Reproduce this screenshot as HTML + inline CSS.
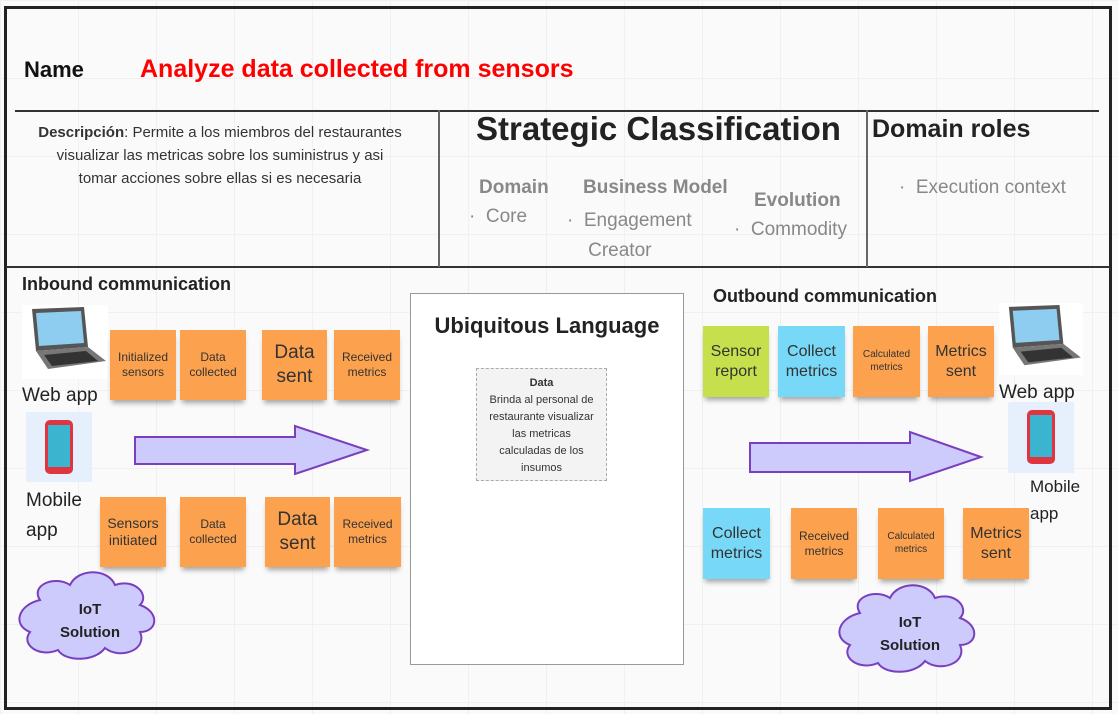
<!DOCTYPE html>
<html><head><meta charset="utf-8"><style>
*{margin:0;padding:0;box-sizing:border-box}
body{width:1118px;height:714px;background:#fafafa;font-family:"Liberation Sans",sans-serif;position:relative;overflow:hidden;
background-image:linear-gradient(#f0f0f0 1px,transparent 1px),linear-gradient(90deg,#f0f0f0 1px,transparent 1px);background-size:78px 78px}
.a{position:absolute}
.frame{left:4px;top:6px;width:1108px;height:704px;border:3px solid #222}
.hl{height:2px;background:#333}
.vl{width:1.5px;background:#666}
.s{position:absolute;display:flex;align-items:center;justify-content:center;text-align:center;color:#333;background:#fca14e;box-shadow:0 5px 5px -2px rgba(0,0,0,.35);line-height:1.25}
.f12{font-size:12px}.f11{font-size:11px}.f10{font-size:10px}.f19{font-size:19px}.f16{font-size:16px}
.g{color:#888}
.b{font-weight:bold}
</style></head><body>
<div class="a frame"></div>
<div class="a b" style="left:24px;top:57px;font-size:22px;color:#111">Name</div>
<div class="a b" style="left:140px;top:55px;font-size:25px;color:#f00">Analyze data collected from sensors</div>
<div class="a hl" style="left:15px;top:110px;width:1084px"></div>
<div class="a hl" style="left:6px;top:266px;width:1104px"></div>
<div class="a vl" style="left:438px;top:110px;height:157px"></div>
<div class="a vl" style="left:866px;top:110px;height:157px"></div>
<div class="a" style="left:10px;top:121px;width:420px;text-align:center;font-size:15px;line-height:23px;color:#333;white-space:nowrap"><b>Descripción</b>: Permite a los miembros del restaurantes<br>visualizar las metricas sobre los suministrus y asi<br>tomar acciones sobre ellas si es necesaria</div>
<div class="a b" style="left:476px;top:110px;font-size:33px;color:#222">Strategic Classification</div>
<div class="a b" style="left:872px;top:115px;font-size:25px;color:#222">Domain roles</div>
<div class="a b g" style="left:479px;top:177px;font-size:19px">Domain</div>
<div class="a g" style="left:469px;top:206px;font-size:19px">·&nbsp; Core</div>
<div class="a b g" style="left:583px;top:177px;font-size:19px">Business Model</div>
<div class="a g" style="left:567px;top:206px;font-size:19px;line-height:30px">·&nbsp; Engagement<br>&nbsp;&nbsp;&nbsp;&nbsp;Creator</div>
<div class="a b g" style="left:754px;top:190px;font-size:19px">Evolution</div>
<div class="a g" style="left:734px;top:219px;font-size:19px">·&nbsp; Commodity</div>
<div class="a g" style="left:899px;top:177px;font-size:19px">·&nbsp; Execution context</div>

<div class="a b" style="left:22px;top:274px;font-size:18px;color:#222">Inbound communication</div>
<div class="a b" style="left:713px;top:286px;font-size:18px;color:#222">Outbound communication</div>

<svg class="a" style="left:22px;top:305px" width="86" height="74" viewBox="0 0 86 74"><rect width="86" height="74" fill="#fff"/><polygon points="10,4 62,2 66,42 14,46" fill="#555"/><polygon points="14,8 59,6 62,38 17,41" fill="#8fcdf0"/><polygon points="14,46 66,42 84,56 26,64" fill="#777"/><polygon points="22,50 64,46 76,56 30,61" fill="#333"/></svg>
<div class="a" style="left:22px;top:385px;font-size:19px;color:#222">Web app</div>
<div class="a" style="left:26px;top:412px;width:66px;height:70px;background:#e6f0fc"></div>
<div class="a" style="left:45px;top:420px;width:28px;height:54px;border-radius:5px;background:#e03440"><div style="margin:5px 3px;height:42px;background:#3bb4d0"></div></div>
<div class="a" style="left:26px;top:486px;font-size:19px;line-height:30px;color:#222">Mobile<br>app</div>

<div class="s f12" style="left:110px;top:330px;width:66px;height:70px">Initialized sensors</div>
<div class="s f12" style="left:180px;top:330px;width:66px;height:70px">Data collected</div>
<div class="s f19" style="left:262px;top:330px;width:65px;height:70px">Data sent</div>
<div class="s f12" style="left:334px;top:330px;width:66px;height:70px">Received metrics</div>
<div class="s" style="left:100px;top:497px;width:66px;height:70px;font-size:14px">Sensors initiated</div>
<div class="s f12" style="left:180px;top:497px;width:66px;height:70px">Data collected</div>
<div class="s f19" style="left:265px;top:497px;width:65px;height:70px">Data sent</div>
<div class="s f12" style="left:334px;top:497px;width:67px;height:70px">Received metrics</div>

<svg class="a" style="left:0;top:0" width="1118" height="714">
<polygon points="135,437 295,437 295,426 367,450 295,474 295,464 135,464" fill="#cdcafc" stroke="#7a3fbf" stroke-width="2"/>
<polygon points="750,443 910,443 910,432 981,457 910,481 910,472 750,472" fill="#cdcafc" stroke="#7a3fbf" stroke-width="2"/>
<g fill="#cdcafc" stroke="#7a3fbf" stroke-width="2">
<path d="M40,600 C30,585 55,575 70,585 C78,568 108,568 115,585 C135,578 150,595 140,605 C160,612 158,632 140,632 C148,650 120,660 105,648 C95,662 65,662 58,650 C40,658 20,645 30,632 C12,625 18,605 40,600Z"/>
<path d="M860,613 C850,598 875,588 890,598 C898,581 928,581 935,598 C955,591 970,608 960,618 C980,625 978,645 960,645 C968,663 940,673 925,661 C915,675 885,675 878,663 C860,671 840,658 850,645 C832,638 838,618 860,613Z"/>
</g>
</svg>
<div class="a b" style="left:40px;top:598px;width:100px;text-align:center;font-size:15px;line-height:23px;color:#222">IoT<br>Solution</div>
<div class="a b" style="left:860px;top:611px;width:100px;text-align:center;font-size:15px;line-height:23px;color:#222">IoT<br>Solution</div>

<div class="a" style="left:410px;top:293px;width:274px;height:372px;background:#fff;border:1.5px solid #999"></div>
<div class="a b" style="left:410px;top:313px;width:274px;text-align:center;font-size:22px;color:#222">Ubiquitous Language</div>
<div class="a" style="left:476px;top:368px;width:131px;height:113px;background:#f3f3f3;border:1px dashed #aaa;text-align:center;font-size:11px;line-height:17px;color:#333;padding-top:6px;white-space:nowrap"><b>Data</b><br>Brinda al personal de<br>restaurante visualizar<br>las metricas<br>calculadas de los<br>insumos</div>

<div class="s f16" style="left:703px;top:326px;width:66px;height:71px;background:#c6e04d">Sensor report</div>
<div class="s f16" style="left:778px;top:326px;width:67px;height:71px;background:#78d8f7">Collect metrics</div>
<div class="s f10" style="left:853px;top:326px;width:67px;height:71px">Calculated metrics</div>
<div class="s f16" style="left:928px;top:326px;width:66px;height:71px">Metrics sent</div>
<div class="s f16" style="left:703px;top:508px;width:67px;height:71px;background:#78d8f7">Collect metrics</div>
<div class="s f12" style="left:791px;top:508px;width:66px;height:71px">Received metrics</div>
<div class="s f10" style="left:878px;top:508px;width:66px;height:71px">Calculated metrics</div>
<div class="s f16" style="left:963px;top:508px;width:66px;height:71px">Metrics sent</div>

<svg class="a" style="left:999px;top:303px" width="84" height="72" viewBox="0 0 86 74"><rect width="86" height="74" fill="#fff"/><polygon points="10,4 62,2 66,42 14,46" fill="#555"/><polygon points="14,8 59,6 62,38 17,41" fill="#8fcdf0"/><polygon points="14,46 66,42 84,56 26,64" fill="#777"/><polygon points="22,50 64,46 76,56 30,61" fill="#333"/></svg>
<div class="a" style="left:999px;top:382px;font-size:19px;color:#222">Web app</div>
<div class="a" style="left:1008px;top:402px;width:66px;height:71px;background:#e6f0fc"></div>
<div class="a" style="left:1027px;top:410px;width:28px;height:54px;border-radius:5px;background:#e03440"><div style="margin:5px 3px;height:42px;background:#3bb4d0"></div></div>
<div class="a" style="left:1030px;top:473px;font-size:17px;line-height:27px;color:#222">Mobile<br>app</div>
</body></html>
